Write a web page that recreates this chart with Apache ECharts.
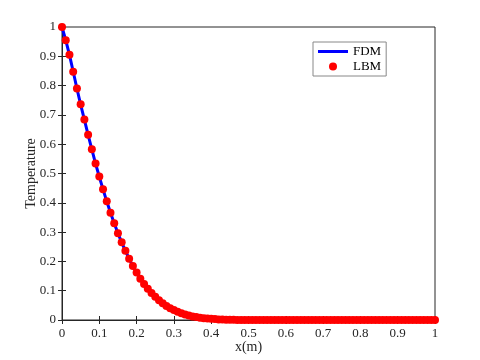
<!DOCTYPE html>
<html><head><meta charset="utf-8">
<script src="https://cdn.jsdelivr.net/npm/echarts@6/dist/echarts.min.js"></script>
<style>html,body{margin:0;padding:0;background:#fff}#c{width:480px;height:360px}</style>
</head><body><div id="c"></div>
<script>
var xValues = [0,0.01,0.02,0.03,0.04,0.05,0.06,0.07,0.08,0.09,0.1,0.11,0.12,0.13,0.14,0.15,0.16,0.17,0.18,0.19,0.2,0.21,0.22,0.23,0.24,0.25,0.26,0.27,0.28,0.29,0.3,0.31,0.32,0.33,0.34,0.35,0.36,0.37,0.38,0.39,0.4,0.41,0.42,0.43,0.44,0.45,0.46,0.47,0.48,0.49,0.5,0.51,0.52,0.53,0.54,0.55,0.56,0.57,0.58,0.59,0.6,0.61,0.62,0.63,0.64,0.65,0.66,0.67,0.68,0.69,0.7,0.71,0.72,0.73,0.74,0.75,0.76,0.77,0.78,0.79,0.8,0.81,0.82,0.83,0.84,0.85,0.86,0.87,0.88,0.89,0.9,0.91,0.92,0.93,0.94,0.95,0.96,0.97,0.98,0.99,1];
var fdmValues = [1.0,0.955,0.905,0.848,0.79,0.735,0.684,0.632,0.582,0.534,0.489,0.446,0.405,0.366,0.33,0.296,0.265,0.236,0.209,0.184,0.162,0.141,0.123,0.107,0.092,0.079,0.067,0.057,0.048,0.04,0.034,0.028,0.023,0.019,0.015,0.012,0.01,0.008,0.006,0.005,0.004,0.003,0.002,0.002,0.001,0.001,0.001,0,0,0,0,0,0,0,0,0,0,0,0,0,0,0,0,0,0,0,0,0,0,0,0,0,0,0,0,0,0,0,0,0,0,0,0,0,0,0,0,0,0,0,0,0,0,0,0,0,0,0,0,0,0];
var lbmValues = [1.0,0.955,0.905,0.847,0.79,0.736,0.684,0.632,0.583,0.534,0.49,0.446,0.405,0.366,0.33,0.296,0.265,0.236,0.209,0.184,0.162,0.141,0.123,0.107,0.092,0.079,0.067,0.057,0.048,0.04,0.034,0.028,0.023,0.019,0.015,0.012,0.01,0.008,0.006,0.005,0.004,0.003,0.002,0.002,0.001,0.001,0.001,0,0,0,0,0,0,0,0,0,0,0,0,0,0,0,0,0,0,0,0,0,0,0,0,0,0,0,0,0,0,0,0,0,0,0,0,0,0,0,0,0,0,0,0,0,0,0,0,0,0,0,0,0,0];
var seriesNames = ['FDM','LBM'];
var xLabel = 'x(m)';
var yLabel = 'Temperature';

function pairs(xs, ys){ return xs.map(function(x,i){ return [x, ys[i]]; }); }
var font = 'Liberation Serif';
var axColor = '#262626';
var chart = echarts.init(document.getElementById('c'), null, {renderer:'canvas'});
var fmt = function(v){ return String(Math.round(v*10)/10); };
var baseAxis = {
  type:'value', min:0, max:1, interval:0.1,
  axisLine:{show:true, lineStyle:{color:axColor, width:1}},
  axisTick:{show:true, inside:true, length:4, lineStyle:{color:axColor}},
  splitLine:{show:false}
};
chart.setOption({
  animation:false,
  backgroundColor:'#fff',
  grid:{left:62, right:45, top:27, bottom:40, show:true, borderColor:axColor, borderWidth:1, backgroundColor:'transparent'},
  legend:{
    orient:'vertical', left:313, top:42, itemWidth:30, itemHeight:8, itemGap:2,
    padding:[3,5,3,5],
    borderColor:'#888', borderWidth:1, backgroundColor:'#fff',
    textStyle:{fontFamily:font, fontSize:13, color:'#000'},
    data:[
      {name:'FDM', icon:'path://M0,0L30,0L30,3L0,3Z'},
      {name:'LBM', icon:'circle'}
    ]
  },
  xAxis:[
    Object.assign({}, baseAxis, {position:'bottom', name:xLabel, nameLocation:'middle', nameGap:20, nameMoveOverlap:false,
      nameTextStyle:{fontFamily:font, fontSize:14, color:axColor},
      axisLabel:{fontFamily:font, fontSize:13, color:axColor, margin:7, formatter:fmt}}),
    Object.assign({}, baseAxis, {position:'top', axisLabel:{show:false}})
  ],
  yAxis:[
    Object.assign({}, baseAxis, {position:'left', name:yLabel, nameLocation:'middle', nameGap:24, nameRotate:90, nameMoveOverlap:false,
      nameTextStyle:{fontFamily:font, fontSize:14, color:axColor},
      axisLabel:{fontFamily:font, fontSize:13, color:axColor, margin:6, formatter:fmt}}),
    Object.assign({}, baseAxis, {position:'right', axisLabel:{show:false}})
  ],
  series:[
    {name:seriesNames[0], type:'line', data:pairs(xValues, fdmValues), showSymbol:false, symbol:'none',
     lineStyle:{color:'#0000ff', width:3}, itemStyle:{color:'#0000ff'}, z:2},
    {name:seriesNames[1], type:'scatter', data:pairs(xValues, lbmValues), symbol:'circle', symbolSize:8,
     itemStyle:{color:'#ff0000', opacity:1}, z:3}
  ]
});
</script></body></html>
